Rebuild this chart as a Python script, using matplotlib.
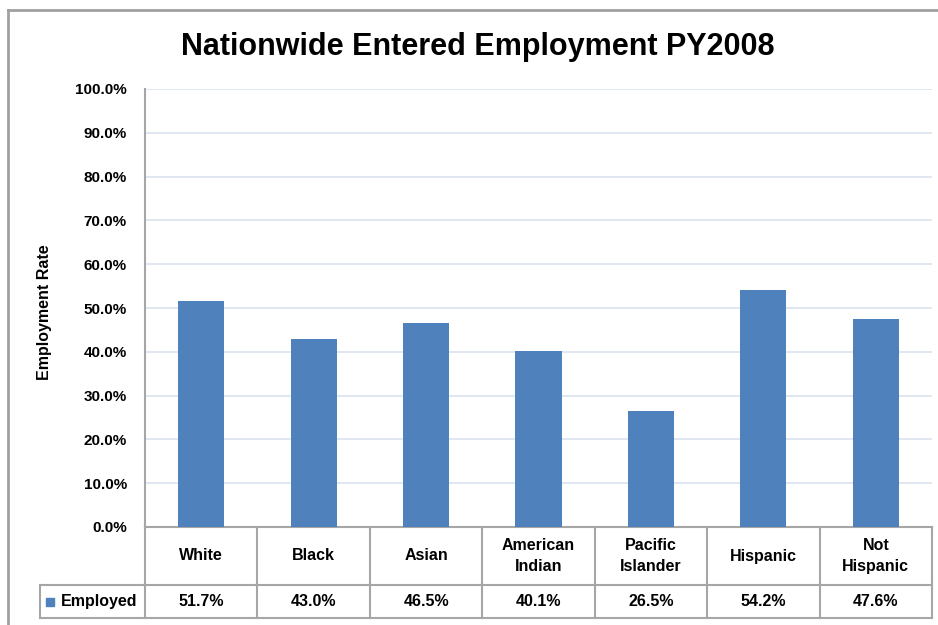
import matplotlib.pyplot as plt
import matplotlib.transforms as mtransforms
from matplotlib.lines import Line2D
from matplotlib.patches import Rectangle

categories = ["White", "Black", "Asian", "American\nIndian", "Pacific\nIslander", "Hispanic", "Not\nHispanic"]
employed = [51.7, 43.0, 46.5, 40.1, 26.5, 54.2, 47.6]
series_name = "Employed"
title = "Nationwide Entered Employment PY2008"
y_label = "Employment Rate"

bar_color = "#4F81BD"
line_color = "#A6A6A6"
grid_color = "#DCE3EF"

plt.rcParams["font.family"] = ["Liberation Sans", "DejaVu Sans"]
plt.rcParams["font.weight"] = "bold"

fig = plt.figure(figsize=(9.38, 6.25), dpi=100)
ax = fig.add_axes([145 / 938, 1 - 527 / 625, 787 / 938, 438 / 625])

x = list(range(len(categories)))
ax.bar(x, employed, width=0.41, color=bar_color, zorder=3)

ax.set_xlim(-0.5, len(categories) - 0.5)
ax.set_ylim(0, 100)
ax.set_yticks(range(0, 101, 10))
ax.set_yticklabels([f"{v:.1f}%" for v in range(0, 101, 10)], fontsize=11, fontweight="bold")
ax.tick_params(axis="y", length=0, pad=13)
ax.set_xticks([])
ax.yaxis.grid(True, color=grid_color, linewidth=1.2, zorder=0)
for side in ["top", "right", "bottom"]:
    ax.spines[side].set_visible(False)
ax.spines["left"].set_color(line_color)
ax.spines["left"].set_linewidth(1.5)

fig.text(45 / 938, 1 - 312 / 625, y_label, rotation=90, ha="center", va="center",
         fontsize=11.5, fontweight="bold")
fig.text(478 / 938, 1 - 47 / 625, title, ha="center", va="center",
         fontsize=22, fontweight="bold")

# data table under the axis
trans = mtransforms.blended_transform_factory(ax.transData, ax.transAxes)
y_sep = -58 / 438
y_bot = -91 / 438
x_leg = -0.5 - 105 / 112.4
n = len(categories)

def tline(xs, ys):
    ax.add_line(Line2D(xs, ys, transform=trans, color=line_color, linewidth=1.5, clip_on=False))

tline([-0.5, n - 0.5], [0, 0])
tline([x_leg, n - 0.5], [y_sep, y_sep])
tline([x_leg, n - 0.5], [y_bot, y_bot])
tline([x_leg, x_leg], [y_sep, y_bot])
for i in range(n + 1):
    tline([i - 0.5, i - 0.5], [0, y_bot])

for i, (cat, val) in enumerate(zip(categories, employed)):
    ax.text(i, y_sep / 2, cat, transform=trans, ha="center", va="center",
            fontsize=11.5, fontweight="bold", linespacing=1.45)
    ax.text(i, (y_sep + y_bot) / 2, f"{val:.1f}%", transform=trans, ha="center",
            va="center", fontsize=11.5, fontweight="bold")

ax.add_patch(Rectangle((x_leg + 6 / 112.4, (y_sep + y_bot) / 2 - 4 / 438), 8 / 112.4, 8 / 438,
                       transform=trans, color=bar_color, clip_on=False))
ax.text(x_leg + 21 / 112.4, (y_sep + y_bot) / 2, series_name, transform=trans,
        ha="left", va="center", fontsize=11.5, fontweight="bold")

# outer chart border
fig.add_artist(Line2D([8 / 938, 1], [1 - 10 / 625, 1 - 10 / 625], color="#A0A0A0", linewidth=2))
fig.add_artist(Line2D([8 / 938, 8 / 938], [0, 1 - 10 / 625], color="#A0A0A0", linewidth=2))

fig.savefig("out.png", dpi=100)
